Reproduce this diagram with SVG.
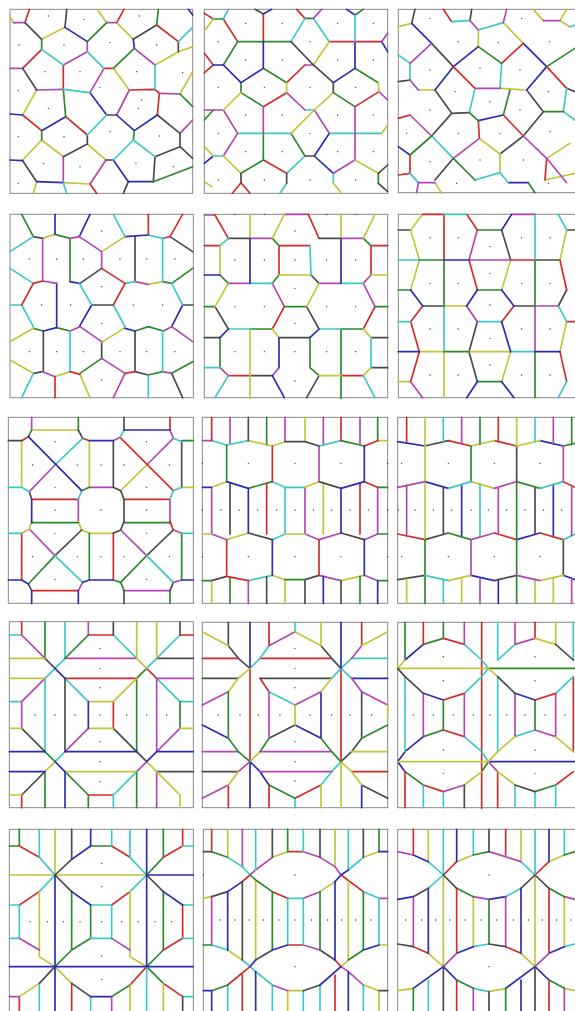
<svg xmlns="http://www.w3.org/2000/svg" width="575" height="1011" viewBox="0 0 575 1011">
<style>
path{fill:none;stroke-width:5;stroke-linecap:round;stroke-linejoin:round}
.f{fill:none;stroke:#8a8a8a;stroke-width:3}
.r{stroke:#d42a2a}.g{stroke:#2a8a2a}.b{stroke:#2a2ab4}.c{stroke:#3cc8c8}.m{stroke:#b444b4}.y{stroke:#c4c43a}.k{stroke:#4a4a4a}
.d{stroke:#334;stroke-width:4}
</style>
<rect width="575" height="1011" fill="#fff"/>
<g id="panel1" transform="translate(0,0) scale(0.33333)">
<rect class="f" x="30" y="28" width="548" height="552"/>
<path class="r" d="M75 68L88 28M350 68L372 28M470 75L535 125M125 148L68 205M312 205L340 205M388 270L465 268L478 280L472 345M190 195L190 268M68 345L125 392M197 350L262 405M270 552L290 580"/>
<path class="y" d="M30 50L40 68M125 118L195 82M292 28L320 68M350 68L400 118M465 195L535 155L578 140M340 205L388 270M540 282L578 215M110 270L68 345M125 420L68 480M125 420L190 470M262 432L318 480M110 545L100 580M190 548L270 552"/>
<path class="m" d="M40 68L75 68M320 68L350 68M403 145L465 195M262 125L262 155L190 195M30 205L68 205M478 280L540 282M110 270L190 268M270 278L312 205M350 345L388 270M540 400L578 360M190 470L190 548M318 480L270 552"/>
<path class="k" d="M75 68L125 118M195 82L200 28M400 118L470 75M535 125L535 155M68 205L110 270M320 345L350 345M472 345L540 400L540 440M465 470L540 440L578 475M262 405L262 432L190 470M465 470L460 545M68 482L110 545M385 545L370 580M318 480L340 480"/>
<path class="b" d="M565 28L578 45M195 82L262 125M400 118L403 145M270 278L320 345M350 345L403 392L472 345M125 392L197 350M30 342L68 345M30 480L68 482M110 545L190 548M340 480L385 545L460 545"/>
<path class="g" d="M262 125L320 68M470 75L475 28M125 118L125 148M403 145L340 205M540 282L578 320M190 268L197 350M125 392L125 420M403 392L400 420M460 545L578 500"/>
<path class="c" d="M535 125L578 82M125 148L190 195M262 155L312 205M465 195L465 268M190 268L270 278M320 345L262 405M400 420L465 470M400 420L340 480M190 548L200 580"/>
<path class="d" d="M145 48h0M252 58h0M418 48h0M57 135h0M192 135h0M330 128h0M470 135h0M135 215h0M240 215h0M410 215h0M548 218h0M55 272h0M300 262h0M425 300h0M145 325h0M415 325h0M55 410h0M192 410h0M330 395h0M478 408h0M130 490h0M240 500h0M408 490h0M520 500h0M55 550h0"/>
</g>
<g id="panel2" transform="translate(195,0) scale(0.33333)">
<rect class="f" x="28" y="28" width="550" height="552"/>
<path class="r" d="M28 40L55 57M85 57L128 125M205 42L205 125M305 28L330 55M403 125L560 125M28 160L55 195L28 218M275 248L330 195M480 320L552 275M205 480L275 520M138 548L112 580M138 548L165 580M275 278L205 320"/>
<path class="g" d="M55 57L85 57M480 45L505 28M128 125L288 125M330 55L355 55M128 125L85 195M205 205L275 248M480 205L550 248M138 248L138 278L205 320M415 278L480 320M28 360L55 330M205 400L205 480L138 520M288 400L330 468M550 520L550 550"/>
<path class="b" d="M205 42L230 28M455 28L480 45M480 125L480 205M560 125L578 155M55 195L85 195L138 248M205 125L205 205L138 248M415 248L480 205M28 490L55 468M358 468L403 400M358 468L415 520"/>
<path class="c" d="M85 57L100 28M330 55L288 125M355 55L403 125M480 45L480 125M330 330L358 330M128 400L288 400M403 400L560 400M55 468L85 468M330 468L275 520M415 520L415 550M275 550L255 580"/>
<path class="m" d="M355 55L380 28M560 125L578 100M330 195L355 195M552 275L578 300M275 278L330 330M28 330L85 330M85 330L128 400M205 320L205 400M358 330L403 400M480 320L480 480M128 400L85 468M415 520L480 480"/>
<path class="y" d="M55 57L30 90M403 125L355 195M550 248L552 275M138 278L85 330M275 248L275 278M415 278L358 330M358 330L288 400M560 400L578 375M28 440L55 468M85 468L138 520M480 480L550 520M415 550L440 580M28 545L50 560"/>
<path class="k" d="M180 28L205 42M288 125L355 195M355 195L415 248M415 248L415 278M330 468L358 468M550 520L578 495M138 520L138 548M275 520L275 550M550 550L578 575"/>
<path class="d" d="M152 70h0M262 70h0M345 125h0M428 70h0M535 70h0M70 125h0M152 180h0M262 180h0M428 180h0M535 180h0M70 262h0M208 262h0M345 262h0M482 262h0M152 345h0M262 345h0M428 345h0M535 345h0M70 400h0M345 400h0M152 455h0M262 455h0M428 455h0M535 455h0M70 540h0M208 540h0M345 540h0M482 540h0"/>
</g>
<g id="panel3" transform="translate(390,0) scale(0.33333)">
<rect class="f" x="25" y="28" width="570" height="550"/>
<path class="k" d="M75 28L65 70M240 62L245 28M125 130L190 200M25 245L60 240M135 270L185 340M410 270L460 335M185 340L238 338M185 340L125 408M400 408L330 462M190 475L135 540M530 265L555 275M400 408L460 335"/>
<path class="y" d="M25 80L65 70M265 90L265 140M340 68L400 130M430 28L460 62M510 62L530 28M85 270L135 270M330 265L410 270M268 415L330 462M330 462L330 518M470 475L540 430M135 548L155 580M510 62L540 80M465 540L555 520"/>
<path class="b" d="M65 70L125 130M265 140L190 200M400 130L470 200M190 200L135 270M470 200L410 270M25 440L60 465M265 362L340 345M355 548L415 548"/>
<path class="r" d="M160 28L185 65M335 190L400 130M190 200L255 265M470 200L530 265M25 355L60 345M340 345L400 408M265 362L268 415M470 475L465 540M60 465L60 520M25 525L60 520"/>
<path class="c" d="M185 65L240 62M265 90L340 68M25 165L60 190L60 240M335 190L330 265M255 265L238 338M125 408L190 475M255 540L330 518M60 520L85 548M540 80L555 75M520 335L555 360M530 265L520 335M330 518L355 548"/>
<path class="m" d="M350 28L340 68M460 62L510 62M240 62L265 90M125 130L60 190M60 240L85 270M255 265L330 265M60 345L125 408M268 415L190 475M400 408L470 475L530 548M85 548L135 548M85 548L80 578"/>
<path class="g" d="M265 140L335 190M470 200L555 145M360 270L340 345M238 338L265 362M125 408L60 465M190 475L255 540M460 335L520 335M415 548L435 578"/>
<path class="d" d="M120 55h0M205 125h0M325 128h0M395 55h0M478 125h0M120 210h0M270 205h0M390 210h0M195 275h0M300 305h0M475 275h0M120 330h0M390 330h0M50 400h0M205 400h0M330 400h0M480 395h0M120 485h0M270 480h0M400 480h0M200 550h0M475 550h0"/>
</g>
<g id="panel4" transform="translate(0,205) scale(0.33333)">
<rect class="f" x="30" y="28" width="550" height="550"/>
<path class="g" d="M65 28L100 95M165 88L210 100M210 100L210 230M515 235L578 190M100 370L130 378M170 368L210 378M445 365L490 378M305 460L240 505M445 510L488 500M515 505L578 470M488 230L515 235M405 378L445 365"/>
<path class="k" d="M100 95L128 100M405 95L405 230M510 95L578 140M240 235L305 190M275 300L340 300M130 378L130 500M305 410L305 460M405 378L405 500M100 505L128 500M405 500L445 510M515 505L548 578M548 300L578 300"/>
<path class="y" d="M128 100L165 88M305 140L375 95M30 410L100 370M305 412L375 368M30 465L100 505M165 515L210 500M240 508L270 578M445 238L488 230"/>
<path class="b" d="M165 28L165 88M238 95L270 28M375 95L445 90M170 235L170 368M238 365L275 300M548 300L515 365M130 378L170 368M210 230L238 235M375 370L405 378"/>
<path class="m" d="M210 100L238 95M238 95L305 140M128 100L128 230M488 100L510 95M305 140L305 190M128 228L170 235M405 230L445 238M210 378L240 365M240 365L305 410M490 378L515 365M515 365L578 410M305 460L375 505M128 500L165 515M375 505L340 578M488 500L515 505"/>
<path class="c" d="M30 140L100 95M340 28L375 95M445 90L488 100M30 190L100 235M238 235L275 300M375 235L405 230M488 100L488 230M515 235L548 300M30 300L65 300L100 365M340 300L375 365M210 378L210 500M488 378L488 500M100 505L65 578M445 510L445 578"/>
<path class="r" d="M445 28L445 90M510 95L548 28M100 235L128 228M100 235L65 300M305 190L375 235M375 235L340 300M165 515L165 578M210 500L240 508M375 505L405 500"/>
<path class="d" d="M88 162h0M170 162h0M250 162h0M360 162h0M440 162h0M525 162h0M305 78h0M305 245h0M125 300h0M212 300h0M400 300h0M488 300h0M305 355h0M88 440h0M170 440h0M250 440h0M360 440h0M440 440h0M525 440h0M305 525h0"/>
</g>
<g id="panel5" transform="translate(195,205) scale(0.33333)">
<rect class="f" x="28" y="28" width="550" height="550"/>
<path class="m" d="M28 30L60 30M165 100L232 100M268 28L340 28M438 100L505 100M100 235L165 235M372 235L438 235M505 235L528 210M232 235L268 305M505 235L540 305M75 488L100 512M232 512L252 488"/>
<path class="r" d="M60 30L100 100M340 28L372 100M528 122L578 122M28 122L75 122M252 122L345 122M252 122L252 210M528 122L528 210M268 305L232 372M540 305L505 372M100 512L165 512M438 512L505 512"/>
<path class="k" d="M100 100L165 100M372 100L438 100M348 210L372 235M60 305L100 372M335 305L372 372M28 398L75 398M252 398L345 398M528 398L578 398M165 512L232 512M528 488L578 488M372 512L335 578"/>
<path class="g" d="M232 100L252 122M505 100L528 122M75 210L100 235M28 305L60 305M268 305L335 305M540 305L578 305M165 372L232 372M438 372L505 372M75 398L75 488M345 398L345 488M438 372L438 580M345 488L372 512M232 235L252 210"/>
<path class="y" d="M232 100L268 28M505 100L540 28M165 28L165 100M438 28L438 100M75 122L75 210M252 210L348 210M528 210L578 210M100 235L60 305M372 235L335 305M165 372L165 580M232 372L252 398M505 372L528 398M372 512L438 512M505 512L528 488"/>
<path class="c" d="M100 100L75 122M345 122L348 210M165 235L232 235M438 235L505 235M100 372L165 372M372 372L438 372M28 488L75 488M528 398L528 488M100 512L60 578M505 512L540 578"/>
<path class="b" d="M28 210L75 210M165 100L165 235M438 100L438 235M100 372L75 398M252 398L252 488M345 398L372 372M232 512L268 578"/>
<path class="d" d="M120 28h0M208 28h0M395 28h0M482 28h0M300 78h0M120 165h0M208 165h0M300 165h0M395 165h0M482 165h0M300 250h0M120 305h0M208 305h0M395 305h0M482 305h0M300 355h0M120 440h0M208 440h0M300 440h0M395 440h0M482 440h0M300 528h0"/>
</g>
<g id="panel6" transform="translate(390,205) scale(0.33333)">
<rect class="f" x="25" y="28" width="570" height="550"/>
<path class="k" d="M25 75L62 75M335 75L362 165M530 75L555 75M98 303L162 303M530 255L505 303M372 303L435 303M262 350L237 440M237 440L262 530M435 165L510 165"/>
<path class="y" d="M62 75L98 28M62 75L88 165M88 165L62 255M530 75L510 165M362 165L335 255M162 303L230 303M530 350L510 440M25 530L62 530M88 440L162 440M237 440L362 440M362 440L335 530M162 440L162 578"/>
<path class="r" d="M98 28L162 28M162 28L162 165M230 28L262 75M237 165L262 255M362 165L435 165M510 165L530 255M98 303L62 350M335 350L372 303M530 350L555 350M62 350L88 440M88 440L62 530M510 440L530 530"/>
<path class="c" d="M162 28L230 28M435 28L435 165M505 28L530 75M25 165L88 165M25 350L62 350M262 350L335 350M505 303L530 350M162 303L162 440M362 440L435 440M530 530L505 578"/>
<path class="m" d="M262 75L237 165M237 165L362 165M435 303L505 303M230 303L262 350M435 303L435 440M62 530L98 578M365 28L435 28"/>
<path class="g" d="M262 75L335 75M88 165L162 165M25 255L62 255M162 165L162 303M262 255L335 255M435 165L435 303M162 440L237 440M262 530L335 530M435 440L435 578"/>
<path class="b" d="M335 75L365 28M162 165L237 165M62 255L98 303M262 255L230 303M335 255L372 303M335 350L362 440M25 440L88 440M435 440L510 440M262 530L230 578M335 530L372 578"/>
<path class="d" d="M120 98h0M205 98h0M300 125h0M395 98h0M480 98h0M120 235h0M205 235h0M300 205h0M395 235h0M480 235h0M300 300h0M120 372h0M205 372h0M395 372h0M480 372h0M300 400h0M120 510h0M205 510h0M300 480h0M395 510h0M480 510h0"/>
</g>
<g id="panel7" transform="translate(0,410) scale(0.33333)">
<rect class="f" x="25" y="22" width="555" height="558"/>
<path class="m" d="M95 22L95 60M165 165L88 245M268 232L340 232M235 268L235 338M510 60L520 85M520 85L440 165M510 268L510 338M340 92L360 82M88 357L165 437M362 360L440 437M520 360L545 370M520 517L545 510M372 542L510 542M235 542L248 517"/>
<path class="y" d="M95 60L235 60M65 92L65 232M268 95L268 232M440 165L362 242M545 232L580 232M65 370L88 357L95 334M268 370L340 370M245 360L268 370M245 360L235 334"/>
<path class="g" d="M235 22L235 60M95 60L85 80M545 92L580 92M245 242L268 232M95 338L235 338M372 338L510 338M165 437L85 522M268 370L268 510M440 437L362 517M545 370L545 510M362 517L340 510M362 517L372 542M510 542L510 580"/>
<path class="r" d="M85 80L65 92M248 85L268 92M510 22L510 60M360 82L520 242M95 268L235 268M372 268L510 268M520 360L510 334M65 370L65 510M95 542L235 542M340 370L340 510"/>
<path class="k" d="M25 92L65 92M88 245L95 268M235 60L248 85M340 92L340 232M372 22L372 60M545 95L545 232M340 232L362 242L372 268M372 268L372 338M245 360L165 437M520 360L440 437M85 522L95 542M520 517L510 542M340 370L362 360L372 334M372 542L372 580"/>
<path class="c" d="M25 232L65 232M65 232L88 245M248 85L165 165M245 242L235 268M372 60L360 82M520 85L545 95M520 242L545 232M520 242L510 268M25 370L65 370M165 437L248 517M440 437L520 517M545 370L580 370"/>
<path class="b" d="M85 80L245 242M268 92L340 92M372 60L510 60M95 268L95 338M25 510L65 510M65 510L85 522M95 542L95 580M235 542L235 580M248 517L268 510M268 510L340 510M545 510L580 510"/>
<path class="d" d="M165 95h0M440 95h0M98 165h0M232 165h0M303 165h0M372 165h0M508 165h0M165 232h0M440 232h0M165 300h0M303 300h0M440 300h0M165 370h0M440 370h0M98 440h0M232 440h0M303 440h0M372 440h0M508 440h0M165 508h0M440 508h0"/>
</g>
<g id="panel8" transform="translate(195,410) scale(0.33333)">
<rect class="f" x="22" y="22" width="556" height="558"/>
<path class="m" d="M22 92L50 92M105 22L105 103M270 22L270 95M385 22L385 105M495 22L495 102M372 108L372 215M50 232L50 372M330 232L330 372M548 232L548 372M50 372L95 389M330 372L372 389L438 369M508 389L548 372M160 512L160 580M372 496L438 512M508 496L548 512"/>
<path class="c" d="M50 92L95 105L160 92M372 108L438 92M232 215L270 232L330 232M270 232L270 372M232 389L270 372M160 512L232 496"/>
<path class="y" d="M160 92L232 108L270 95M548 92L578 92M330 22L330 95M50 232L95 215M330 232L372 215M385 219L385 372M22 372L50 372M95 389L160 369M270 372L330 372M232 496L270 509M438 512L508 496M50 512L50 580M270 509L270 580"/>
<path class="k" d="M270 95L330 95L372 108M160 22L160 92M372 215L438 235M105 218L105 372M160 369L232 389M438 369L508 389M50 512L95 499M330 509L372 496M215 500L215 580M330 509L330 580M438 512L438 580"/>
<path class="g" d="M438 92L508 108M215 22L215 102M548 22L548 92M95 105L95 215M160 235L232 215M548 232L578 232M548 372L578 372M22 512L50 512M270 509L330 509M548 512L578 512M105 501L105 580M495 499L495 580"/>
<path class="r" d="M508 108L548 92M50 22L50 92M438 22L438 92M232 108L232 215M508 215L548 232M215 220L215 372M495 219L495 372M95 389L95 499M372 389L372 496M95 499L160 512"/>
<path class="b" d="M508 108L508 215M22 232L50 232M95 215L160 235M438 235L508 215M160 235L160 369M438 235L438 369M232 389L232 496M508 389L508 496M385 499L385 580M548 512L548 580"/>
<path class="d" d="M160 160h0M300 160h0M438 160h0M160 440h0M300 440h0M438 440h0M22 160h0M578 160h0M22 440h0M578 440h0M22 300h0M78 300h0M132 300h0M188 300h0M245 300h0M300 300h0M355 300h0M410 300h0M465 300h0M520 300h0M578 300h0"/>
</g>
<g id="panel9" transform="translate(195,410) scale(0.33333)">
<rect class="f" x="608" y="22" width="560" height="558"/>
<path class="b" d="M608 95L690 108M1035 92L1105 108M690 215L760 235M800 223L800 381M1075 223L1075 381M965 389L1035 369M828 496L898 512M1105 496L1140 509M910 508L910 580"/>
<path class="k" d="M690 108L760 92M745 231L745 373M1020 231L1020 373M690 389L760 369M1105 389L1105 496M608 509L690 496M898 512L965 496M965 108L965 215"/>
<path class="r" d="M760 92L828 108M898 92L965 108M635 22L635 97M910 22L910 96M1105 215L1140 232M608 372L690 389M898 369L965 389M1035 369L1105 389"/>
<path class="y" d="M828 108L898 92M965 108L1035 92M690 22L690 389M965 22L965 108M828 215L898 235M760 512L828 496M1035 512L1105 496M635 507L635 580M800 505L800 580M1020 508L1020 580M1075 505L1075 580"/>
<path class="g" d="M1105 108L1140 100M855 22L855 102M1130 22L1130 104M828 108L828 215M965 215L1035 235M760 369L828 389M690 389L690 580M965 215L965 580"/>
<path class="c" d="M745 22L745 95M1020 22L1020 95M760 235L828 215M1035 235L1105 215M855 223L855 381M1105 389L1140 372M690 496L760 512M745 508L745 580"/>
<path class="m" d="M800 22L800 102M1075 22L1075 102M1105 108L1105 215M608 232L690 215M898 235L965 215M635 226L635 378M910 231L910 373M1130 227L1130 377M828 389L898 369M828 389L828 496M965 496L1035 512M855 505L855 580M1130 505L1130 580"/>
<path class="d" d="M760 160h0M898 160h0M1035 160h0M760 440h0M898 440h0M1035 440h0M620 160h0M620 440h0M610 300h0M660 300h0M715 300h0M770 300h0M828 300h0M880 300h0M935 300h0M990 300h0M1045 300h0M1100 300h0"/>
</g>
<g id="panel10" transform="translate(0,615) scale(0.33333)">
<rect class="f" x="28" y="20" width="552" height="558"/>
<path class="r" d="M65 22L65 60M265 60L340 60M540 60L580 60M195 190L410 190M340 260L340 340M440 160L470 190M265 540L340 540M65 540L65 578"/>
<path class="c" d="M28 60L65 60M195 22L195 130M340 60L410 130M540 60L470 130M195 130L135 190M135 190L135 410M195 190L265 260M470 190L540 260M28 260L65 260M540 260L580 260M165 440L195 410M340 540L410 470M340 540L340 578M440 160L470 130"/>
<path class="m" d="M65 60L135 130M265 22L265 60M195 130L410 130M470 190L580 190M135 190L65 260M65 260L65 340M195 410L265 340M470 410L540 340M440 440L410 470M470 470L470 578M470 190L470 410"/>
<path class="g" d="M135 22L135 130M265 60L195 130M410 190L440 160M410 190L410 410M540 260L540 340M135 410L165 440M195 470L265 540M135 470L135 578M265 540L265 578M410 470L410 578"/>
<path class="k" d="M340 22L340 60M540 22L540 60M470 130L580 130M135 130L165 160M195 190L195 410M65 340L135 410M340 340L440 440M470 470L580 470M135 470L65 540"/>
<path class="y" d="M28 130L135 130M410 22L410 130M470 22L470 130M28 190L135 190M410 130L440 160M410 190L340 260M265 260L340 260M28 340L65 340M265 340L340 340M540 340L580 340M195 470L410 470M165 440L135 470M440 440L470 470M470 470L540 540M540 540L540 578M28 540L65 540"/>
<path class="b" d="M165 160L195 190M265 260L265 340M28 410L135 410M195 410L410 410M470 410L580 410M28 470L135 470M165 440L195 470M440 440L470 410M195 470L195 578"/>
<path class="d" d="M300 100h0M300 160h0M300 218h0M105 300h0M165 300h0M225 300h0M300 300h0M380 300h0M440 300h0M500 300h0M300 380h0M300 440h0M300 500h0"/>
</g>
<g id="panel11" transform="translate(195,615) scale(0.33333)">
<rect class="f" x="22" y="22" width="556" height="556"/>
<path class="r" d="M22 130L130 130M195 130L410 130M470 470L578 470M165 160L165 440M438 160L438 440M222 22L222 92M500 22L500 92M195 190L222 230M100 510L100 578M300 550L378 510M222 510L222 578"/>
<path class="k" d="M22 190L130 190M195 190L410 190M22 470L130 470M100 22L100 92M100 92L130 130M378 92L410 130M130 130L165 160M410 130L438 160M222 370L300 330M470 410L438 440M500 510L578 550M500 230L500 370M470 410L500 370"/>
<path class="c" d="M470 130L578 130M222 92L195 130M300 22L300 50M195 130L165 160M470 130L438 160M410 190L438 160M438 160L470 190M222 230L300 270M378 510L410 470M300 550L300 578M438 440L410 470"/>
<path class="b" d="M470 190L578 190M165 22L165 160M438 22L438 160M165 440L165 578M22 330L100 370M378 230L378 370M300 330L378 370M195 470L222 510M500 510L500 578M165 440L195 470"/>
<path class="m" d="M22 410L130 410M195 410L410 410M195 470L410 470M222 92L300 50M470 130L500 92M22 270L100 230M300 270L378 230M222 230L222 370M470 190L500 230L578 270M22 550L100 510M165 440L130 470"/>
<path class="y" d="M470 410L578 410M438 440L438 578M22 50L100 92M300 50L378 92M378 22L378 92M500 92L578 50M130 190L165 160M130 190L100 230M378 230L410 190M300 270L300 330M578 270L578 310M130 470L100 510M378 510L378 578M470 470L500 510M195 410L165 440M438 440L470 470"/>
<path class="g" d="M100 230L100 370M100 370L130 410M195 410L222 370M378 370L410 410M222 510L300 550M130 410L165 440M410 410L438 440M500 370L578 330"/>
<path class="d" d="M300 100h0M300 160h0M300 218h0M70 300h0M135 300h0M190 300h0M255 300h0M345 300h0M410 300h0M465 300h0M530 300h0M300 380h0M300 440h0M300 498h0"/>
</g>
<g id="panel12" transform="translate(195,615) scale(0.33333)">
<rect class="f" x="608" y="22" width="560" height="556"/>
<path class="g" d="M630 22L630 135M685 88L745 70M745 22L745 70M880 160L1140 160M745 255L745 345M1020 255L1020 345M685 365L745 345M630 470L685 510M1020 530L1082 510M860 470L880 440"/>
<path class="b" d="M630 135L685 88M685 235L745 255M960 235L1020 255M630 410L685 365M608 440L630 410M880 440L1140 440M608 440L630 470"/>
<path class="r" d="M745 70L808 88M685 22L685 88M1020 22L1020 70M860 22L860 580M745 255L808 235M1020 255L1082 235M1135 185L1135 410M745 345L808 365M685 510L745 530M1082 510L1135 470M630 470L630 578M908 470L908 578"/>
<path class="c" d="M808 88L860 135L880 160M908 22L908 135M908 135L960 88M1135 22L1135 135M808 235L860 185L880 160M630 185L630 410M908 185L908 410M1082 235L1135 185M808 365L860 410L880 440M960 365L1020 345M685 510L685 578M745 530L745 578M960 510L960 578M1020 530L1020 578M1082 510L1082 578"/>
<path class="m" d="M808 22L808 88M960 22L960 88M960 88L1020 70M685 235L685 365M808 235L808 365M960 235L960 365M1082 235L1082 365M1020 345L1082 365M745 530L808 510M880 440L908 470"/>
<path class="y" d="M1020 70L1082 88M1082 22L1082 88M608 160L630 135M608 160L880 160M880 160L908 185M880 440L908 410L960 365M1082 365L1135 410M608 440L880 440M808 510L860 470M908 470L960 510"/>
<path class="k" d="M1082 88L1135 135M608 160L630 185L685 235M908 185L960 235M960 510L1020 530M808 510L808 578"/>
<path class="d" d="M745 125h0M1020 125h0M745 197h0M1020 197h0M655 300h0M715 300h0M775 300h0M835 300h0M885 300h0M935 300h0M990 300h0M1050 300h0M1110 300h0M745 405h0M1020 405h0M745 475h0M1020 475h0"/>
</g>
<g id="panel13" transform="translate(0,820) scale(0.33333)">
<rect class="f" x="28" y="28" width="552" height="560"/>
<path class="g" d="M58 28L58 78M28 78L58 78M272 78L335 78M490 28L490 112M490 112L440 165M215 215L215 390M490 215L490 390M272 255L272 355M215 390L272 355M215 390L165 440M335 530L390 495M440 440L490 490M490 390L440 440"/>
<path class="r" d="M58 78L118 112M335 78L390 112M490 112L548 78M548 28L548 78M118 215L58 255M335 255L390 215M548 255L548 355M490 390L548 355M390 495L440 440M490 490L548 530M58 530L58 590M215 490L215 590"/>
<path class="c" d="M118 28L118 112M118 112L165 165M390 28L390 112M390 112L440 165M548 78L580 78M165 165L118 215M440 165L390 215M28 255L58 255M58 255L58 355M28 355L58 355M272 355L335 355M335 255L335 355M272 255L335 255M548 255L580 255M548 355L580 355M548 530L580 530M118 490L118 590M272 530L272 590M440 440L440 590M335 28L335 78"/>
<path class="y" d="M165 28L165 165M28 165L440 165M118 215L118 410M390 215L390 410M118 410L165 440M390 410L440 440M118 490L58 530M165 440L215 490M390 495L390 590M490 490L490 590"/>
<path class="k" d="M215 28L215 118M215 118L165 165M165 165L215 215M440 165L490 215M165 440L118 490M215 490L272 530M548 530L548 590"/>
<path class="b" d="M272 28L272 78M272 78L215 118M440 28L440 165M440 165L580 165M215 215L272 255M490 215L548 255M165 165L165 590M28 440L580 440M272 530L335 530M440 165L440 440"/>
<path class="m" d="M58 355L118 390M335 355L390 390M28 530L58 530M335 530L335 590"/>
<path class="d" d="M305 130h0M305 200h0M90 305h0M142 305h0M190 305h0M240 305h0M305 305h0M365 305h0M415 305h0M465 305h0M515 305h0M305 408h0M305 478h0"/>
</g>
<g id="panel14" transform="translate(195,820) scale(0.33333)">
<rect class="f" x="25" y="28" width="553" height="560"/>
<path class="r" d="M50 28L50 95M278 95L325 95M142 185L165 165M232 215L278 235M438 165L505 215M278 375L325 375M420 420L438 440M98 495L165 440M142 465L142 590M420 465L420 590"/>
<path class="y" d="M98 28L98 112M420 28L420 140M232 112L278 95M505 112L552 95M25 235L50 230M375 215L420 185M182 180L182 420M460 185L460 420M98 390L142 420M438 440L460 420M552 375L578 375M278 512L325 512M505 495L552 512M278 512L278 590M552 512L552 590"/>
<path class="m" d="M142 28L142 140M165 165L182 150L232 112M325 95L375 112L420 140L438 165M552 235L578 235M325 235L375 215M50 230L50 375M325 375L375 390M232 495L278 512M438 440L460 455L505 495"/>
<path class="c" d="M182 28L182 150M325 28L325 95M460 28L460 150M98 112L142 140L165 165M460 150L505 112M278 235L325 235M505 215L552 235M278 235L278 375M325 235L325 375M552 235L552 375M50 375L98 390M142 420L165 440M165 440L182 455L232 495M98 495L98 590M232 495L232 590M325 512L325 590M375 495L375 590M505 495L505 590"/>
<path class="k" d="M232 28L232 112M375 28L375 112M505 28L505 112M25 95L50 95M50 230L98 215M142 185L142 420M182 420L232 390M375 390L420 420M325 512L375 495M552 512L578 512"/>
<path class="g" d="M278 28L278 95M552 28L552 95M50 95L98 112M165 165L182 180L232 215M232 215L232 390M375 215L375 390M505 215L505 390M25 375L50 375M460 420L505 390M50 512L98 495"/>
<path class="b" d="M438 165L460 150M552 95L578 95M98 215L142 185M420 185L438 165M98 215L98 390M420 185L420 420M165 440L182 420M232 390L278 375M505 390L552 375M25 512L50 512M375 495L438 440M50 512L50 590M182 455L182 590M460 455L460 590"/>
<path class="d" d="M300 165h0M300 440h0M25 165h0M75 300h0M120 300h0M162 300h0M205 300h0M252 300h0M300 300h0M350 300h0M398 300h0M440 300h0M482 300h0M528 300h0"/>
</g>
<g id="panel15" transform="translate(195,820) scale(0.33333)">
<rect class="f" x="608" y="28" width="560" height="560"/>
<path class="r" d="M655 28L655 105M932 28L932 105M745 165L785 125M1020 165L1062 125M785 205L785 400M1062 205L1062 400M655 380L700 400M932 380L978 400M785 480L785 590M1062 480L1062 590"/>
<path class="y" d="M700 28L700 125M978 28L978 125M785 125L835 105M1062 125L1108 105M745 165L745 440M1020 165L1020 440M835 230L835 380M1108 230L1108 380M700 400L745 440M978 400L1020 440M608 512L655 505M882 515L932 505M1108 505L1140 512"/>
<path class="c" d="M745 28L745 165M835 28L835 105M1108 28L1108 105M1020 28L1020 165M700 125L745 165M978 125L1020 165M700 205L745 165M932 230L978 205M835 380L882 372M1108 380L1140 372M835 505L882 515M700 480L700 590"/>
<path class="b" d="M785 28L785 125M1062 28L1062 125M655 105L700 125M608 238L655 230M882 238L932 230M700 205L700 400M978 205L978 400M785 400L835 380M1062 400L1108 380M655 505L745 440L785 480M932 505L1020 440L1062 480M978 480L978 590"/>
<path class="m" d="M608 95L655 105M882 95L978 125M835 230L882 238M1108 230L1140 238M655 230L655 380M932 230L932 380M745 440L785 400M1020 440L1062 400M835 505L835 590M1108 505L1108 590"/>
<path class="g" d="M835 105L882 95M1108 105L1140 95M785 205L835 230M1062 205L1108 230M882 238L882 372M785 480L835 505M1062 480L1108 505M655 505L655 590M932 505L932 590"/>
<path class="k" d="M882 28L882 95M655 230L700 205M745 165L785 205M978 205L1020 165L1062 205M608 372L655 380M882 372L932 380M745 440L745 590M882 515L882 590M1020 440L1020 590"/>
<path class="d" d="M882 165h0M882 440h0M632 300h0M680 300h0M722 300h0M765 300h0M810 300h0M858 300h0M905 300h0M955 300h0M1000 300h0M1042 300h0M1085 300h0M1128 300h0"/>
</g>
</svg>
